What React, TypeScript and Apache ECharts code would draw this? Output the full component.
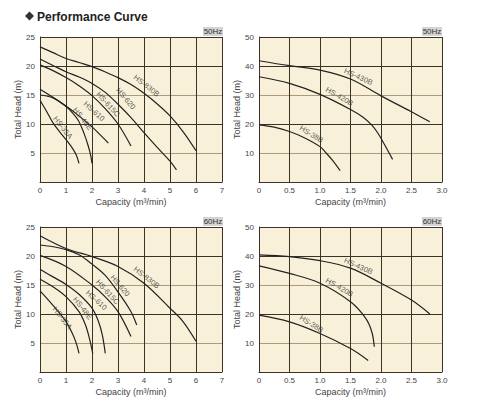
import React, { useEffect, useRef } from "react";
import * as echarts from "echarts";

// ---------- data ----------
const models6 = ["HS-830B", "HS-620", "HS-615C", "HS-610", "HS-48E", "HS-35A"];
const models3 = ["HS-430B", "HS-420B", "HS-38B"];

const xTicksRight = ["0", "0.5", "1.0", "1.5", "2.0", "2.5", "3.0"];

// 50Hz, small models (m3/min, m)
const a50_830B = [[0, 23.3], [0.5, 22.3], [1, 21.3], [1.5, 20.6], [2, 19.9], [2.5, 19.0], [3, 18.0], [3.5, 16.8], [4, 15.3], [4.5, 13.5], [5, 11.4], [5.5, 8.7], [6, 5.4]];
const a50_620 = [[0, 21.2], [0.5, 20.1], [1, 19.0], [1.5, 18.1], [2, 17.0], [2.5, 15.5], [3, 13.4], [3.5, 11.1], [4, 8.5], [4.5, 6.0], [5, 3.6], [5.25, 2.1]];
const a50_615C = [[0, 20.2], [0.5, 19.2], [1, 18.0], [1.5, 16.6], [2, 14.9], [2.5, 12.7], [3, 10.0], [3.5, 6.2]];
const a50_610 = [[0, 16.0], [0.5, 14.6], [1, 13.1], [1.5, 11.4], [2, 9.5], [2.3, 8.2], [2.63, 6.7]];
const a50_48E = [[0, 15.0], [0.5, 14.5], [1, 13.0], [1.25, 11.9], [1.5, 10.4], [1.7, 8.3], [1.85, 6.3], [1.95, 4.6], [2.0, 3.2]];
const a50_35A = [[0, 14.1], [0.25, 12.2], [0.5, 10.2], [0.75, 8.7], [1, 7.3], [1.25, 5.8], [1.4, 4.6], [1.5, 3.2]];

// 50Hz, large-head models
const b50_430B = [[0, 41.8], [0.5, 40.1], [1, 38.6], [1.5, 35.5], [2, 29.7], [2.5, 24.2], [2.8, 20.8]];
const b50_420B = [[0, 36.3], [0.5, 34.0], [1, 30.2], [1.5, 25.0], [1.7, 22.4], [1.85, 19.6], [1.95, 16.8], [2.05, 13.2], [2.19, 7.8]];
const b50_38B = [[0, 19.7], [0.25, 18.9], [0.5, 17.4], [0.75, 15.2], [1.0, 12.2], [1.1, 10.0], [1.2, 7.6], [1.33, 3.9]];

// 60Hz, small models
const a60_830B = [[0, 23.5], [1, 21.3], [2, 19.9], [3, 18.2], [4, 15.3], [5, 11.0], [5.5, 8.7], [6, 5.3]];
const a60_620 = [[0, 21.9], [0.5, 21.6], [1, 21.1], [1.5, 20.2], [2, 18.6], [2.5, 16.7], [3, 13.8], [3.5, 10.4], [3.72, 8.1]];
const a60_615C = [[0, 20.1], [1, 18.2], [2, 15.0], [2.5, 13.0], [3, 10.4], [3.5, 6.1]];
const a60_610 = [[0, 17.7], [0.5, 16.4], [1, 15.1], [1.5, 13.4], [2, 11.0], [2.25, 8.7], [2.4, 6.3], [2.51, 3.2]];
const a60_48E = [[0, 16.0], [0.5, 14.7], [1, 13.0], [1.5, 10.4], [1.75, 8.1], [1.9, 5.8], [2.03, 3.2]];
const a60_35A = [[0, 14.0], [0.5, 11.5], [1, 8.7], [1.25, 6.6], [1.4, 4.9], [1.5, 3.2]];

// 60Hz, large-head models
const b60_430B = [[0, 40.4], [0.5, 39.8], [1, 38.4], [1.5, 35.8], [2, 30.6], [2.5, 24.8], [2.8, 20.0]];
const b60_420B = [[0, 36.6], [0.5, 34.0], [1, 30.6], [1.5, 24.2], [1.75, 18.5], [1.85, 13.8], [1.89, 8.7]];
const b60_38B = [[0, 19.6], [0.5, 17.3], [1, 13.3], [1.5, 8.1], [1.79, 4.0]];

// label anchors (data coordinates) and angles
const lblA50 = [[4.1, 16.6], [3.3, 14.4], [2.62, 13.4], [2.08, 12.2], [1.64, 10.9], [0.88, 9.4]];
const lblA60 = [[4.1, 16.3], [3.08, 14.9], [2.6, 13.8], [2.17, 12.4], [1.64, 11.0], [0.86, 9.3]];
const rotA = [-38, -50, -48, -42, -52, -52];
const lblB50 = [[1.63, 36.3], [1.32, 29.5], [0.86, 16.5]];
const lblB60 = [[1.63, 36.5], [1.32, 29.2], [0.86, 16.6]];
const rotB = [-24, -30, -32];

const DARK = "#3b3325";
const TAN = "#a99b7c";
const FONT = "Liberation Sans, Arial, sans-serif";

function curveSeries(g: number, list: number[][][]) {
  return list.map((d) => ({
    type: "line",
    xAxisIndex: g,
    yAxisIndex: g,
    data: d,
    smooth: 0.35,
    symbol: "none",
    silent: true,
    lineStyle: { color: "#222", width: 1.2 },
    z: 5,
  }));
}

function labelSeries(g: number, names: string[], pos: number[][], rot: number[]) {
  return {
    type: "scatter",
    xAxisIndex: g,
    yAxisIndex: g,
    symbolSize: 0,
    silent: true,
    z: 6,
    data: names.map((n, i) => ({ value: pos[i], name: n, label: { rotate: rot[i] } })),
    label: {
      show: true,
      position: "inside",
      formatter: "{b}",
      fontSize: 7.5,
      color: "#333",
      fontFamily: FONT,
    },
  };
}

function xAxis(g: number, max: number, interval: number, right: boolean) {
  return {
    type: "value",
    gridIndex: g,
    min: 0,
    max,
    interval,
    name: "Capacity (m³/min)",
    nameLocation: "middle",
    nameGap: 15,
    nameTextStyle: { fontSize: 9, color: "#444", fontFamily: FONT },
    axisLine: { show: true, lineStyle: { color: DARK, width: 1 } },
    axisTick: { show: false },
    axisLabel: {
      fontSize: 8,
      color: "#444",
      margin: 4,
      fontFamily: FONT,
      formatter: (v: number) => (right ? xTicksRight[Math.round(v / interval)] : String(v)),
    },
    splitLine: { show: true, lineStyle: { color: DARK, width: 1 } },
  };
}

function yAxis(g: number, max: number, interval: number) {
  return {
    type: "value",
    gridIndex: g,
    min: 0,
    max,
    interval,
    name: "Total Head (m)",
    nameLocation: "middle",
    nameGap: 16,
    nameTextStyle: { fontSize: 9, color: "#444", fontFamily: FONT },
    axisLine: { show: true, lineStyle: { color: DARK, width: 1 } },
    axisTick: { show: false },
    axisLabel: {
      fontSize: 8,
      color: "#444",
      margin: 5,
      fontFamily: FONT,
      formatter: (v: number) => (v === 0 ? "" : String(v)),
    },
    splitLine: {
      show: true,
      lineStyle: { color: [DARK, TAN, DARK, TAN, DARK, DARK], width: 1 },
    },
  };
}

function hzTag(x: number, y: number, text: string) {
  return {
    type: "group",
    x,
    y,
    children: [
      { type: "rect", shape: { x: 0, y: 0, width: 20, height: 9 }, style: { fill: "#d4d4d4" } },
      {
        type: "text",
        x: 10,
        y: 4.5,
        style: {
          text,
          fontSize: 8,
          fontFamily: FONT,
          fill: "#333",
          align: "center",
          verticalAlign: "middle",
        },
      },
    ],
  };
}

export default function App() {
  const ref = useRef<HTMLDivElement>(null);
  useEffect(() => {
    if (!ref.current) return;
    const chart = echarts.init(ref.current, undefined, { renderer: "svg" });
    const gridBase = { show: true, backgroundColor: "#f8f0d9", borderWidth: 0 };
    chart.setOption({
      animation: false,
      backgroundColor: "#ffffff",
      grid: [
        { ...gridBase, left: 40, top: 37, width: 182, height: 145 },
        { ...gridBase, left: 259, top: 37, width: 183, height: 145 },
        { ...gridBase, left: 40, top: 227, width: 182, height: 145 },
        { ...gridBase, left: 259, top: 227, width: 183, height: 145 },
      ],
      xAxis: [xAxis(0, 7, 1, false), xAxis(1, 3, 0.5, true), xAxis(2, 7, 1, false), xAxis(3, 3, 0.5, true)],
      yAxis: [yAxis(0, 25, 5), yAxis(1, 50, 10), yAxis(2, 25, 5), yAxis(3, 50, 10)],
      series: [
        ...curveSeries(0, [a50_830B, a50_620, a50_615C, a50_610, a50_48E, a50_35A]),
        ...curveSeries(1, [b50_430B, b50_420B, b50_38B]),
        ...curveSeries(2, [a60_830B, a60_620, a60_615C, a60_610, a60_48E, a60_35A]),
        ...curveSeries(3, [b60_430B, b60_420B, b60_38B]),
        labelSeries(0, models6, lblA50, rotA),
        labelSeries(1, models3, lblB50, rotB),
        labelSeries(2, models6, lblA60, rotA),
        labelSeries(3, models3, lblB60, rotB),
      ],
      graphic: [
        {
          type: "polygon",
          shape: { points: [[29.5, 11.5], [34, 16], [29.5, 20.5], [25, 16]] },
          style: { fill: "#333" },
        },
        {
          type: "text",
          x: 37,
          y: 16.5,
          style: {
            text: "Performance Curve",
            fontSize: 12,
            fontWeight: "bold",
            fontFamily: FONT,
            fill: "#222",
            verticalAlign: "middle",
          },
        },
        hzTag(203, 27, "50Hz"),
        hzTag(422, 27, "50Hz"),
        hzTag(203, 217, "60Hz"),
        hzTag(422, 217, "60Hz"),
      ],
    });
    return () => chart.dispose();
  }, []);
  return (
    <div
      ref={ref}
      style={{ position: "fixed", left: 0, top: 0, width: 480, height: 409, background: "#fff" }}
    />
  );
}
